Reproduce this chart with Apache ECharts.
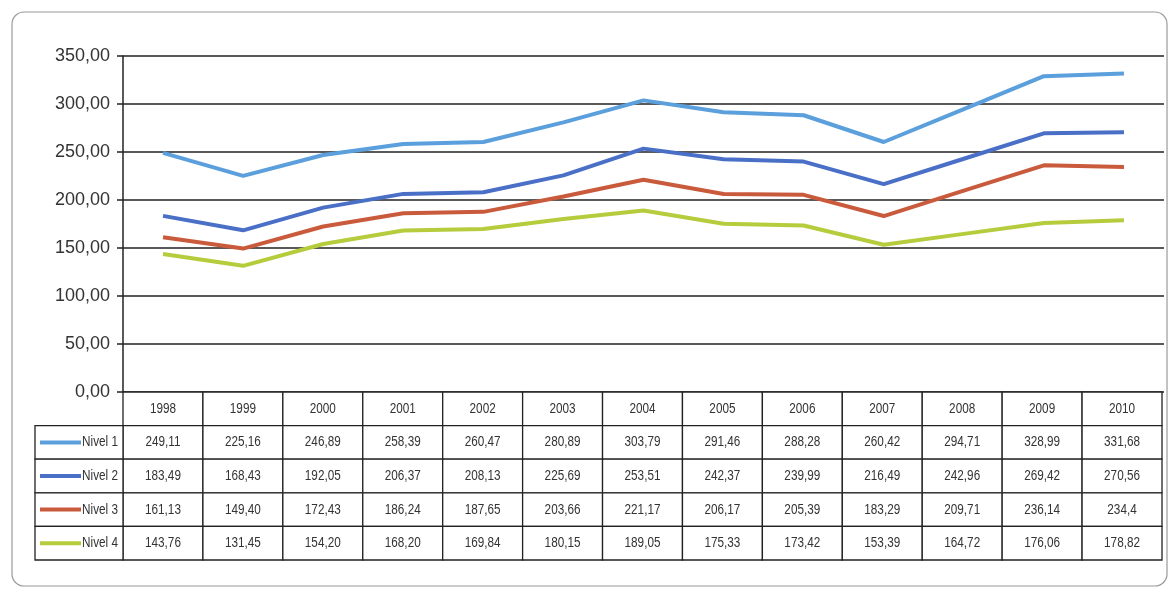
<!DOCTYPE html>
<html lang="es">
<head>
<meta charset="utf-8">
<script src="https://cdn.jsdelivr.net/npm/echarts@6/dist/echarts.min.js"></script>
<style>
  html, body { margin: 0; padding: 0; background: #fff; }
  #main { width: 1172px; height: 594px; }
</style>
</head>
<body>
<div id="main"></div>
<script type="text/javascript">
  // table values as printed (comma decimals)
  var years = ['1998', '1999', '2000', '2001', '2002', '2003', '2004', '2005', '2006', '2007', '2008', '2009', '2010'];
  var nivel1 = ['249,11', '225,16', '246,89', '258,39', '260,47', '280,89', '303,79', '291,46', '288,28', '260,42', '294,71', '328,99', '331,68'];
  var nivel2 = ['183,49', '168,43', '192,05', '206,37', '208,13', '225,69', '253,51', '242,37', '239,99', '216,49', '242,96', '269,42', '270,56'];
  var nivel3 = ['161,13', '149,40', '172,43', '186,24', '187,65', '203,66', '221,17', '206,17', '205,39', '183,29', '209,71', '236,14', '234,4'];
  var nivel4 = ['143,76', '131,45', '154,20', '168,20', '169,84', '180,15', '189,05', '175,33', '173,42', '153,39', '164,72', '176,06', '178,82'];
  var seriesNames = ['Nivel 1', 'Nivel 2', 'Nivel 3', 'Nivel 4'];
  var seriesColors = ['#5b9fdc', '#4a6fc6', '#c95a3c', '#b6cc3c'];
  var yTicks = { min: 0, max: 350, interval: 50 };

  var rows = [nivel1, nivel2, nivel3, nivel4];
  var fontFam = "'Liberation Sans', Arial, sans-serif";

  function toNum(s) {
    return parseFloat(s.replace(',', '.'));
  }

  // cells of the data table: [column, row], row 0 = year header
  var cellData = [];
  var cellText = [];
  years.forEach(function (y, i) {
    cellData.push([i, 0]);
    cellText.push(y);
  });
  rows.forEach(function (r, ri) {
    r.forEach(function (v, i) {
      cellData.push([i, ri + 1]);
      cellText.push(v);
    });
  });

  // narrow-looking text, like the scanned table
  function cellLabel(text, x, y, align) {
    return {
      type: 'text',
      x: x, y: y, scaleX: 0.84, scaleY: 1.05,
      style: {
        text: text, x: 0, y: 0,
        align: align, verticalAlign: 'middle',
        fill: '#333', font: '14px ' + fontFam
      }
    };
  }

  function renderCell(params, api) {
    var c = api.coord([api.value(0), api.value(1)]);
    var s = api.size([1, 1]);
    return {
      type: 'group',
      children: [{
        type: 'rect',
        shape: { x: c[0] - s[0] / 2, y: c[1] - s[1] / 2, width: s[0], height: s[1] },
        style: { fill: '#fff', stroke: '#222', lineWidth: 1.3 }
      }, cellLabel(cellText[params.dataIndex], c[0], c[1], 'center')]
    };
  }

  function renderLegendCell(params, api) {
    var c = api.coord([0, api.value(0)]);
    var s = api.size([1, 1]);
    var x0 = c[0] - s[0] / 2;
    var idx = params.dataIndex;
    return {
      type: 'group',
      children: [{
        type: 'rect',
        shape: { x: x0, y: c[1] - s[1] / 2, width: s[0], height: s[1] },
        style: { fill: '#fff', stroke: '#222', lineWidth: 1.3 }
      }, {
        type: 'line',
        shape: { x1: x0 + 5, y1: c[1], x2: x0 + 46, y2: c[1] },
        style: { stroke: seriesColors[idx], lineWidth: 4 }
      }, cellLabel(seriesNames[idx], x0 + s[0] - 5, c[1], 'right')]
    };
  }

  var lineSeries = rows.map(function (r, i) {
    return {
      name: seriesNames[i],
      type: 'line',
      xAxisIndex: 0,
      yAxisIndex: 0,
      data: r.map(toNum),
      symbol: 'none',
      lineStyle: { color: seriesColors[i], width: 4 },
      itemStyle: { color: seriesColors[i] },
      z: 3
    };
  });

  var option = {
    animation: false,
    backgroundColor: '#fff',
    graphic: [{
      type: 'rect',
      shape: { x: 12, y: 12, width: 1155, height: 574, r: 12 },
      style: { fill: 'none', stroke: '#9a9a9a', lineWidth: 1.2 },
      z: -1
    }],
    grid: [
      { left: 123, right: 8, top: 56, height: 336 },
      { left: 123, right: 10, top: 392, height: 168 },
      { left: 35, width: 88, top: 425.6, height: 134.4 }
    ],
    xAxis: [{
      gridIndex: 0, type: 'category', data: years, boundaryGap: true,
      axisLine: { show: false }, axisTick: { show: false }, axisLabel: { show: false }
    }, {
      gridIndex: 1, type: 'category', data: years, show: false
    }, {
      gridIndex: 2, type: 'category', data: [''], show: false
    }],
    yAxis: [{
      gridIndex: 0, type: 'value',
      min: yTicks.min, max: yTicks.max, interval: yTicks.interval,
      axisLine: { show: true, lineStyle: { color: '#222', width: 1.5 } },
      axisTick: { show: true, length: 6, lineStyle: { color: '#222', width: 1.5 } },
      splitLine: { show: true, lineStyle: { color: '#222', width: 1.5 } },
      axisLabel: {
        margin: 13, color: '#333', fontSize: 18, fontFamily: fontFam,
        formatter: function (v) { return v.toFixed(2).replace('.', ','); }
      }
    }, {
      gridIndex: 1, type: 'category', data: ['', 'Nivel 1', 'Nivel 2', 'Nivel 3', 'Nivel 4'],
      inverse: true, show: false
    }, {
      gridIndex: 2, type: 'category', data: seriesNames, inverse: true, show: false
    }],
    series: lineSeries.concat([{
      type: 'custom',
      xAxisIndex: 1,
      yAxisIndex: 1,
      data: cellData,
      renderItem: renderCell,
      z: 2
    }, {
      type: 'custom',
      xAxisIndex: 2,
      yAxisIndex: 2,
      data: seriesNames.map(function (n, i) { return [i]; }),
      encode: { y: 0 },
      renderItem: renderLegendCell,
      z: 2
    }])
  };

  var chart = echarts.init(document.getElementById('main'));
  chart.setOption(option);
</script>
</body>
</html>
